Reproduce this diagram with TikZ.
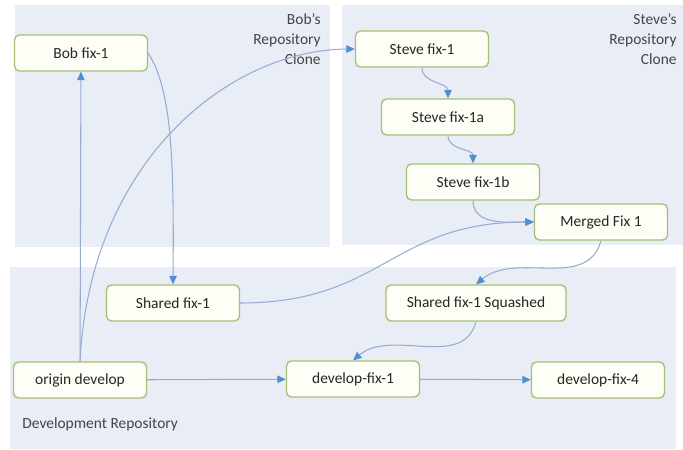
\documentclass[tikz,border=0pt]{standalone}
\usepackage{fontspec}
\setmainfont{Carlito}
\usetikzlibrary{arrows.meta}

\definecolor{panelfill}{HTML}{E8EDF6}
\definecolor{commitfill}{HTML}{FDFEF5}
\definecolor{commitedge}{HTML}{A6BE78}
\definecolor{commitText}{HTML}{262626}
\definecolor{labelText}{HTML}{444444}
\definecolor{linkline}{HTML}{9AABD2}
\definecolor{tipblue}{HTML}{4F8FD0}

\tikzset{
  % Repository areas
  repoarea/.style  = { fill=panelfill },
  repolabel/.style = { font=\fontsize{8.8}{11.4}\selectfont, text=labelText,
                       inner sep=0, align=right },
  % Commits
  commit/.style    = { draw=commitedge, line width=0.75pt, fill=commitfill,
                       rounded corners=1mm, minimum width=2.66cm,
                       minimum height=0.72cm, inner sep=2pt,
                       font=\fontsize{8.8}{10.5}\selectfont, text=commitText },
  widecommit/.style= { commit, minimum width=3.6cm },
  % Connectors
  link/.style      = { draw=linkline, line width=0.6pt,
                       -{Triangle[length=1.7mm, width=1.5mm, color=tipblue]} }
}

\begin{document}
\begin{tikzpicture}

  \useasboundingbox (0,0) rectangle (13.66,8.98);

  % areas
  \fill[repoarea] (0.30,4.04) rectangle (6.60,8.88);
  \fill[repoarea] (6.84,4.08) rectangle (13.66,8.88);
  \fill[repoarea] (0.20,0) rectangle (13.52,3.64);

  \node[repolabel, anchor=north east] (boblabel) at (6.42,8.72) {Bob’s\\Repository\\Clone};
  \node[repolabel, anchor=north east] (stevelabel) at (13.54,8.72) {Steve’s\\Repository\\Clone};
  \node[repolabel, anchor=west] (devlabel) at (0.44,0.50) {Development Repository};

  % commits
  \node[commit] (bobfix) at (1.62,7.92) {Bob fix-1};
  \node[commit] (stevefix) at (8.44,8.00) {Steve fix-1};
  \node[commit] (stevefixa) at (8.96,6.64) {Steve fix-1a};
  \node[commit] (stevefixb) at (9.46,5.34) {Steve fix-1b};
  \node[commit] (merged) at (12.02,4.54) {Merged Fix 1};

  \node[commit] (shared) at (3.46,2.92) {Shared fix-1};
  \node[widecommit] (squashed) at (9.52,2.92) {Shared fix-1 Squashed};
  \node[commit] (origin) at (1.60,1.38) {origin develop};
  \node[commit] (devfixone) at (7.06,1.40) {develop-fix-1};
  \node[commit] (devfixfour) at (11.96,1.38) {develop-fix-4};

  % history
  \draw[link] (origin) -- (bobfix);
  \draw[link] (origin.north) .. controls (1.80,5.78) and (4.60,7.98) .. (stevefix.west);
  \draw[link] (bobfix.east) .. controls (3.44,7.18) and (3.48,5.78) .. (shared.north);
  \draw[link] (shared.east) to[out=0, in=180, looseness=1.2] (merged.west);
  \draw[link] (stevefix.south) to[out=-90, in=90] (stevefixa.north);
  \draw[link] (stevefixa.south) to[out=-90, in=90] (stevefixb.north);
  \draw[link] (stevefixb.south) to[out=-90, in=180] (merged.west);
  \draw[link] (merged.south) to[out=-105, in=40] (squashed.north);
  \draw[link] (squashed.south) to[out=-105, in=40] (devfixone.north);
  \draw[link] (origin) -- (devfixone);
  \draw[link] (devfixone) -- (devfixfour);

\end{tikzpicture}
\end{document}
